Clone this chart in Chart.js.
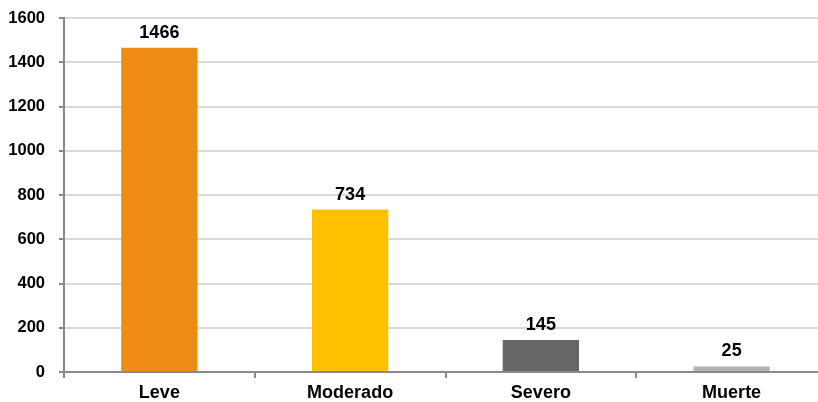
<!DOCTYPE html>
<html>
<head>
<meta charset="utf-8">
<script src="https://cdn.jsdelivr.net/npm/chart.js@4/dist/chart.umd.min.js"></script>
<style>
  html, body { margin: 0; padding: 0; background: #ffffff; overflow: hidden; }
  #wrap { position: relative; width: 829px; height: 402px; }
</style>
</head>
<body>
<div id="wrap"><canvas id="chart"></canvas></div>
<script>
// Cases by severity
const categories = ['Leve', 'Moderado', 'Severo', 'Muerte'];
const cases = [1466, 734, 145, 25];
const barColors = ['#EE8B13', '#FFC000', '#666666', '#B3B3B3'];
const yTicks = [0, 200, 400, 600, 800, 1000, 1200, 1400, 1600];

const FONT = '"Liberation Sans", Arial, sans-serif';
const AXIS_GRAY = '#8a8a8a';

// Writes each bar's value just above it
const valueLabels = {
  id: 'valueLabels',
  afterDatasetsDraw(chart) {
    const ctx = chart.ctx;
    const meta = chart.getDatasetMeta(0);
    ctx.save();
    ctx.font = 'bold 18px ' + FONT;
    ctx.fillStyle = '#000000';
    ctx.textAlign = 'center';
    ctx.textBaseline = 'alphabetic';
    meta.data.forEach((bar, i) => {
      ctx.fillText(String(cases[i]), bar.x, bar.y - 10);
    });
    ctx.restore();
  }
};

new Chart(document.getElementById('chart'), {
  type: 'bar',
  data: {
    labels: categories,
    datasets: [{
      data: cases,
      backgroundColor: barColors,
      borderWidth: 0,
      categoryPercentage: 1.0,
      barPercentage: 0.4
    }]
  },
  options: {
    responsive: true,
    maintainAspectRatio: false,
    animation: false,
    events: [],
    layout: { padding: { top: 18, right: 2, left: 0, bottom: 0 } },
    plugins: {
      legend: { display: false },
      tooltip: { enabled: false }
    },
    scales: {
      x: {
        grid: {
          offset: true,
          drawOnChartArea: false,
          drawTicks: true,
          tickLength: 6,
          tickColor: AXIS_GRAY,
          lineWidth: 2
        },
        border: { display: true, color: AXIS_GRAY, width: 2 },
        ticks: {
          color: '#000000',
          font: { family: FONT, size: 18, weight: 'bold' },
          padding: 4,
          maxRotation: 0
        },
        afterFit(scale) { scale.height = 30; }
      },
      y: {
        min: 0,
        max: 1600,
        afterBuildTicks(scale) { scale.ticks = yTicks.map(v => ({ value: v })); },
        grid: {
          color: '#d9d9d9',
          lineWidth: 2,
          drawTicks: true,
          tickLength: 5,
          tickColor: AXIS_GRAY
        },
        border: { display: true, color: AXIS_GRAY, width: 2 },
        ticks: {
          color: '#000000',
          font: { family: FONT, size: 16.5, weight: 'bold' },
          padding: 14,
          callback: v => String(v)
        },
        afterFit(scale) {
          scale.width = 64;
          scale.paddingTop = 10;
          scale.paddingBottom = 10;
        }
      }
    }
  },
  plugins: [valueLabels]
});
</script>
</body>
</html>
